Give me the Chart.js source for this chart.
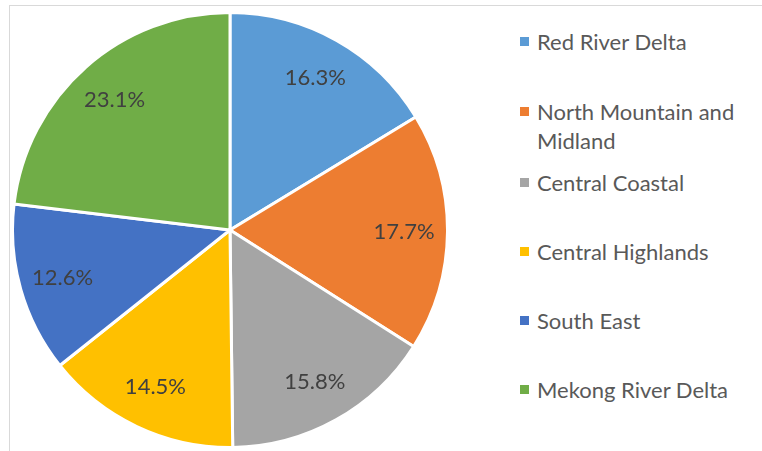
<!DOCTYPE html>
<html>
<head>
<meta charset="utf-8">
<script src="https://cdn.jsdelivr.net/npm/chart.js@4.4.1/dist/chart.umd.min.js"></script>
<style>
  html, body { margin: 0; padding: 0; background: #fff; }
  body { width: 762px; height: 451px; position: relative; overflow: hidden; font-family: Lato, "Open Sans", sans-serif; }
  #frame { position: absolute; left: 9px; top: 5px; width: 800px; height: 500px; border: 1px solid #d9d9d9; box-sizing: border-box; }
  #pie { position: absolute; left: 11px; top: 11px; width: 438px; height: 438px; }
  #legend { position: absolute; left: 0; top: 0; margin: 0; padding: 0; list-style: none; }
  #legend li { position: absolute; left: 520px; width: 240px; display: flex; align-items: flex-start; }
  #legend .box { width: 9px; height: 9px; flex: none; margin-top: 10px; margin-right: 8px; }
  #legend .txt { color: #595959; font-size: 22px; line-height: 29px; width: 212px; }
</style>
</head>
<body>
<div id="frame"></div>
<div id="pie"><canvas id="c"></canvas></div>
<ul id="legend"></ul>
<script>
// regions and their share (%)
const regions = ['Red River Delta', 'North Mountain and Midland', 'Central Coastal', 'Central Highlands', 'South East', 'Mekong River Delta'];
const shares = [16.3, 17.7, 15.8, 14.5, 12.6, 23.1];
const colors = ['#5b9bd5', '#ed7d31', '#a5a5a5', '#ffc000', '#4472c4', '#70ad47'];

// vertical centre of each legend marker
const legendRows = [41.5, 111.5, 182, 251, 320.5, 389.5];

// percentage labels placed inside each slice
const sliceLabels = {
  id: 'sliceLabels',
  afterDatasetsDraw(chart) {
    const { ctx } = chart;
    const meta = chart.getDatasetMeta(0);
    ctx.save();
    ctx.font = '22px Lato, "Open Sans", sans-serif';
    ctx.fillStyle = '#404040';
    ctx.textAlign = 'center';
    ctx.textBaseline = 'middle';
    meta.data.forEach((arc, i) => {
      const { x, y, startAngle, endAngle, outerRadius } = arc.getProps(['x', 'y', 'startAngle', 'endAngle', 'outerRadius'], true);
      const mid = (startAngle + endAngle) / 2;
      const r = outerRadius * 0.8;
      ctx.fillText(shares[i].toFixed(1) + '%', x + Math.cos(mid) * r, y + Math.sin(mid) * r);
    });
    ctx.restore();
  }
};

new Chart(document.getElementById('c'), {
  type: 'pie',
  data: {
    labels: regions,
    datasets: [{
      data: shares,
      backgroundColor: colors,
      borderColor: '#ffffff',
      borderWidth: 3
    }]
  },
  options: {
    responsive: true,
    maintainAspectRatio: false,
    animation: false,
    layout: { padding: 0 },
    plugins: {
      legend: { display: false },
      tooltip: { enabled: false }
    }
  },
  plugins: [sliceLabels]
});

// html legend, so long names can wrap onto a second line
const legend = document.getElementById('legend');
regions.forEach((name, i) => {
  const li = document.createElement('li');
  li.style.top = (legendRows[i] - 14.5) + 'px';
  const box = document.createElement('span');
  box.className = 'box';
  box.style.background = colors[i];
  const txt = document.createElement('span');
  txt.className = 'txt';
  txt.textContent = name;
  li.appendChild(box);
  li.appendChild(txt);
  legend.appendChild(li);
});
</script>
</body>
</html>
